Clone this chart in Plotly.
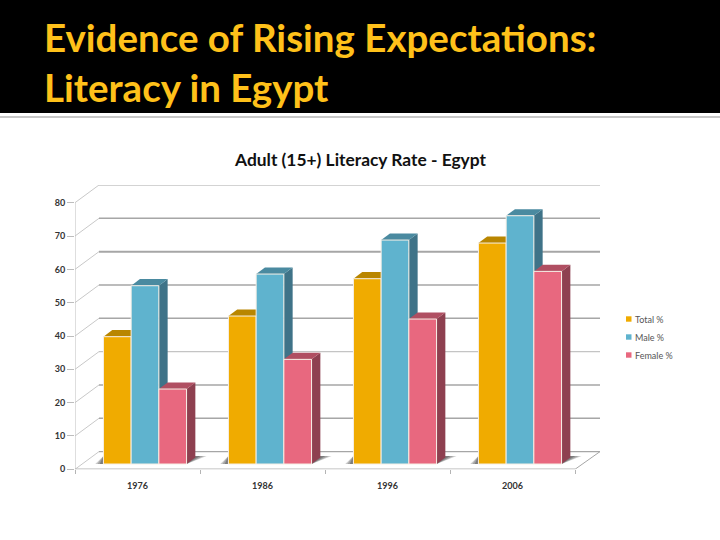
import plotly.graph_objects as go

years = ["1976", "1986", "1996", "2006"]
series = ["Total %", "Male %", "Female %"]
total = [38.2, 44.4, 55.6, 66.3]
male = [53.5, 57.0, 67.2, 74.5]
female = [22.5, 31.4, 43.5, 57.8]
y_ticks = [0, 10, 20, 30, 40, 50, 60, 70, 80]
slide_title = "Evidence of Rising Expectations:<br>Literacy in Egypt"
chart_title = "Adult (15+) Literacy Rate - Egypt"

front = ["#F0AB00", "#5FB3CE", "#E8687F"]
top = ["#B98600", "#4A8AA0", "#B04F62"]
side = ["#8F6A00", "#3F7388", "#8E4050"]

W, H = 720, 540
X0, X1 = 75, 600        # plot box, px
Y0, Y1 = 469.3, 185.0
UNIT = (469.3 - 202.7) / 80  # px per value unit
XR = (-0.5, -0.5 + (X1 - X0) / 125)
YR = (0, (Y0 - Y1) / UNIT)

FLOOR = 5.3 / UNIT
WALL_DX, WALL_DY = 24 / 125, 17.7 / UNIT
BAR_W = 27.7 / 125
SHIFT = 7.5 / 125
DX, DY = 8.8 / 125, 6.6 / UNIT


def poly(pts):
    return "M" + " L".join(f"{x:.4f},{y:.3f}" for x, y in pts) + " Z"


px = lambda v: v / W
py = lambda v: 1 - v / H

shapes = []
def add_line(x0, y0, x1, y1, color, width):
    shapes.append(dict(type="line", xref="x", yref="y", x0=x0, y0=y0, x1=x1, y1=y1,
                       layer="below", line=dict(color=color, width=width)))


# walls
for v in y_ticks:
    add_line(-0.5, v, -0.5 + WALL_DX, v + WALL_DY, "#C8C8C8", 1)
    add_line(-0.5 + WALL_DX, v + WALL_DY, XR[1], v + WALL_DY,
             "#A6A6A6" if v not in (30, 80) else "#C4C4C4", 1.4 if v != 60 else 2)
add_line(-0.5, 0, -0.5, 80, "#BDBDBD", 1)
add_line(-0.5, 0, 3.5, 0, "#B4B4B4", 1.5)
add_line(3.5, 0, XR[1], WALL_DY, "#A6A6A6", 1)

values = [total, male, female]
# floor shadows
for i in range(len(years)):
    left = i + SHIFT - 1.5 * BAR_W
    right = i + SHIFT + 1.5 * BAR_W
    for grow, op in ((1.0, 0.3), (0.75, 0.35), (0.45, 0.5)):
        pts = [(left - 0.065 * grow, FLOOR), (right, FLOOR),
               (right + 0.07 + 0.09 * grow, FLOOR + 2.4),
               (left, FLOOR + 2.4)]
        shapes.append(dict(type="path", xref="x", yref="y", path=poly(pts), layer="below",
                           fillcolor="#555555", opacity=op, line=dict(width=0)))

# top and side faces, back to front
for s, vals in enumerate(values):
    for i, v in enumerate(vals):
        l = i + SHIFT + (s - 1.5) * BAR_W
        r = l + BAR_W
        h = v + FLOOR
        shapes.append(dict(type="path", xref="x", yref="y", layer="below",
                           path=poly([(r, FLOOR), (r + DX, FLOOR + DY), (r + DX, h + DY), (r, h)]),
                           fillcolor=side[s], line=dict(width=0)))
        shapes.append(dict(type="path", xref="x", yref="y", layer="below",
                           path=poly([(l, h), (l + DX, h + DY), (r + DX, h + DY), (r, h)]),
                           fillcolor=top[s], line=dict(width=0)))

fig = go.Figure()
for s, (name, vals) in enumerate(zip(series, values)):
    fig.add_trace(go.Bar(
        x=[i + SHIFT + (s - 1) * BAR_W for i in range(len(years))],
        y=vals, base=FLOOR, width=BAR_W, name=name,
        marker=dict(color=front[s], line=dict(color="#F6EFE6", width=1)),
    ))

shapes.append(dict(type="rect", xref="paper", yref="paper", x0=0, x1=1, y0=py(113), y1=1,
                   fillcolor="#000000", line=dict(width=0), layer="below"))
shapes.append(dict(type="line", xref="paper", yref="paper", x0=0, x1=1, y0=py(117), y1=py(117),
                   line=dict(color="#B5B5B5", width=1.5), layer="below"))

annotations = [dict(
    text=slide_title, xref="paper", yref="paper", x=px(42), y=py(12), xanchor="left", yanchor="top",
    align="left", showarrow=False, font=dict(family="Lato", size=38.5, color="#FFC11A", weight="bold"),
)]
for s, name in enumerate(series):
    yc = 319 + s * 18
    shapes.append(dict(type="rect", xref="paper", yref="paper", x0=px(626), x1=px(631.5),
                       y0=py(yc - 2.7), y1=py(yc + 2.7), fillcolor=front[s], line=dict(width=0)))
    annotations.append(dict(text=name, xref="paper", yref="paper", x=px(633), y=py(yc),
                            xanchor="left", yanchor="middle", showarrow=False,
                            font=dict(family="Lato", size=9, color="#555555")))
annotations.append(dict(text=chart_title, xref="paper", yref="paper", x=px(360), y=py(159),
                        xanchor="center", yanchor="middle", showarrow=False,
                        font=dict(family="Lato", size=17.4, color="#111111", weight="bold")))

fig.update_layout(
    width=W, height=H, autosize=False, margin=dict(l=0, r=0, t=0, b=0),
    paper_bgcolor="#FFFFFF", plot_bgcolor="rgba(0,0,0,0)",
    barmode="overlay", showlegend=False,
    shapes=shapes, annotations=annotations,
    xaxis=dict(domain=[X0 / W, X1 / W], range=XR, tickmode="array", automargin=False,
               tickvals=list(range(len(years))), ticktext=years, ticks="outside", ticklen=8,
               tickcolor="rgba(0,0,0,0)", showgrid=False, zeroline=False, showline=False,
               tickfont=dict(family="Lato", size=9, color="#333333", weight="bold"),
               minor=dict(tickmode="array", tickvals=[-0.5, 0.5, 1.5, 2.5, 3.5], ticks="outside",
                          ticklen=4, tickcolor="#B4B4B4", showgrid=False)),
    yaxis=dict(domain=[1 - Y0 / H, 1 - Y1 / H], range=YR, tickmode="array", automargin=False,
               tickvals=y_ticks, ticktext=[str(v) for v in y_ticks], ticks="outside", ticklen=7,
               tickcolor="#BDBDBD", showgrid=False, zeroline=False, showline=False,
               tickfont=dict(family="Lato", size=9, color="#333333", weight="bold")),
)
fig.write_html("out.html", config={"displayModeBar": False},
               post_script="document.body.style.margin='0';document.documentElement.style.overflow='hidden';")
